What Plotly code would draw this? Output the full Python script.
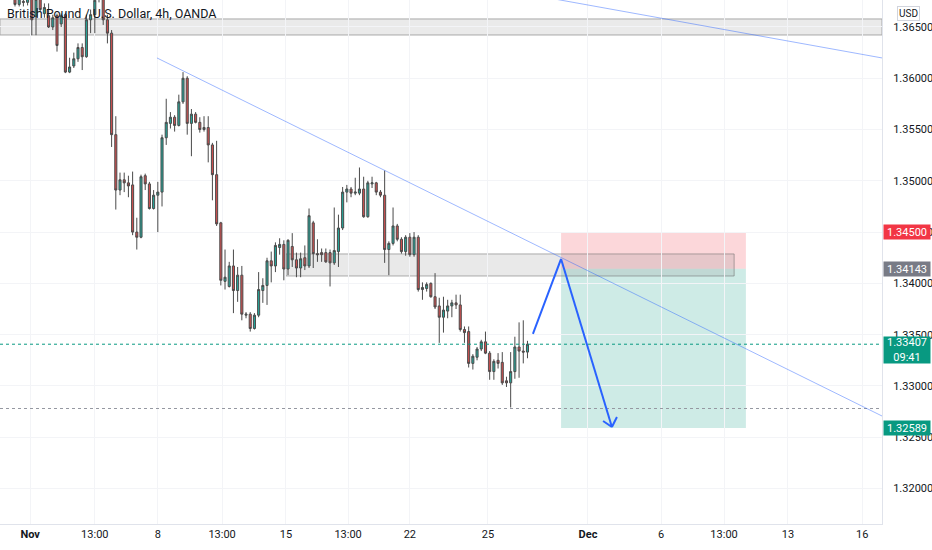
import plotly.graph_objects as go

# ---------------- data (GBP/USD 4h) ----------------
open_ = [1.3690, 1.3693, 1.3688,
         1.3678, 1.3672, 1.3675, 1.3674, 1.3679, 1.3660, 1.3679, 1.3663, 1.3661, 1.3650,
         1.3661, 1.3653, 1.3662, 1.3606, 1.3612, 1.3619, 1.3630, 1.3621, 1.3657, 1.3662,
         1.3684, 1.3679, 1.3657, 1.3644, 1.3545, 1.3491, 1.3501, 1.3498, 1.3496, 1.3450,
         1.3445, 1.3505, 1.3497, 1.3473, 1.3486, 1.3489, 1.3542, 1.3556, 1.3562, 1.3554,
         1.3577, 1.3600, 1.3556, 1.3565, 1.3557, 1.3550, 1.3552, 1.3535, 1.3506, 1.3459,
         1.3402, 1.3397, 1.3417, 1.3393, 1.3408, 1.3369, 1.3370, 1.3356, 1.3369, 1.3393,
         1.3398, 1.3422, 1.3417, 1.3435, 1.3438, 1.3414, 1.3436, 1.3423, 1.3415, 1.3425,
         1.3417, 1.3459, 1.3429, 1.3430, 1.3430, 1.3430, 1.3420, 1.3431, 1.3454, 1.3489,
         1.3492, 1.3488, 1.3488, 1.3492, 1.3465, 1.3497, 1.3498, 1.3489, 1.3486, 1.3433,
         1.3439, 1.3456, 1.3443, 1.3431, 1.3445, 1.3428, 1.3445, 1.3394, 1.3395, 1.3400,
         1.3387, 1.3378, 1.3367, 1.3373, 1.3378, 1.3381, 1.3379, 1.3355, 1.3353, 1.3322,
         1.3328, 1.3336, 1.3343, 1.3332, 1.3314, 1.3325, 1.3323, 1.3305, 1.3303, 1.3314,
         1.3338, 1.3334, 1.3333]

high = [1.3698, 1.3700, 1.3692,
        1.3681, 1.3682, 1.3678, 1.3680, 1.3681, 1.3680, 1.3681, 1.3673, 1.3673, 1.3662,
        1.3663, 1.3663, 1.3664, 1.3620, 1.3625, 1.3634, 1.3634, 1.3662, 1.3667, 1.3681,
        1.3688, 1.3682, 1.3662, 1.3647, 1.3563, 1.3508, 1.3508, 1.3505, 1.3509, 1.3464,
        1.3506, 1.3507, 1.3499, 1.3491, 1.3499, 1.3545, 1.3580, 1.3567, 1.3564, 1.3584,
        1.3606, 1.3602, 1.3570, 1.3567, 1.3562, 1.3563, 1.3563, 1.3537, 1.3539, 1.3460,
        1.3433, 1.3421, 1.3433, 1.3416, 1.3417, 1.3372, 1.3372, 1.3371, 1.3411, 1.3405,
        1.3425, 1.3431, 1.3440, 1.3444, 1.3442, 1.3443, 1.3449, 1.3430, 1.3430, 1.3437,
        1.3473, 1.3461, 1.3443, 1.3434, 1.3434, 1.3433, 1.3474, 1.3467, 1.3494, 1.3496,
        1.3494, 1.3503, 1.3513, 1.3504, 1.3500, 1.3504, 1.3499, 1.3491, 1.3510, 1.3441,
        1.3474, 1.3458, 1.3445, 1.3447, 1.3449, 1.3450, 1.3447, 1.3401, 1.3401, 1.3401,
        1.3410, 1.3386, 1.3387, 1.3384, 1.3384, 1.3389, 1.3389, 1.3358, 1.3358, 1.3331,
        1.3338, 1.3345, 1.3353, 1.3334, 1.3326, 1.3332, 1.3333, 1.3309, 1.3333, 1.3348,
        1.3362, 1.3364, 1.3344]

low = [1.3684, 1.3685, 1.3682,
       1.3670, 1.3670, 1.3670, 1.3671, 1.3642, 1.3642, 1.3665, 1.3659, 1.3649, 1.3647,
       1.3626, 1.3650, 1.3605, 1.3605, 1.3610, 1.3616, 1.3608, 1.3620, 1.3644, 1.3644,
       1.3674, 1.3652, 1.3634, 1.3533, 1.3472, 1.3486, 1.3489, 1.3484, 1.3447, 1.3433,
       1.3444, 1.3491, 1.3472, 1.3472, 1.3450, 1.3475, 1.3535, 1.3551, 1.3548, 1.3553,
       1.3575, 1.3545, 1.3524, 1.3556, 1.3547, 1.3548, 1.3518, 1.3481, 1.3456, 1.3398,
       1.3394, 1.3396, 1.3371, 1.3382, 1.3364, 1.3366, 1.3353, 1.3355, 1.3367, 1.3381,
       1.3379, 1.3401, 1.3411, 1.3428, 1.3403, 1.3408, 1.3416, 1.3406, 1.3406, 1.3413,
       1.3415, 1.3415, 1.3421, 1.3421, 1.3420, 1.3397, 1.3418, 1.3416, 1.3452, 1.3479,
       1.3484, 1.3486, 1.3486, 1.3464, 1.3464, 1.3493, 1.3486, 1.3484, 1.3420, 1.3408,
       1.3437, 1.3441, 1.3429, 1.3427, 1.3426, 1.3426, 1.3392, 1.3384, 1.3392, 1.3386,
       1.3375, 1.3342, 1.3352, 1.3366, 1.3367, 1.3375, 1.3353, 1.3342, 1.3318, 1.3316,
       1.3325, 1.3334, 1.3331, 1.3306, 1.3306, 1.3317, 1.3301, 1.3299, 1.3279, 1.3307,
       1.3308, 1.3322, 1.3327]

close = [1.3693, 1.3688, 1.3684,
         1.3672, 1.3679, 1.3674, 1.3678, 1.3657, 1.3677, 1.3667, 1.3669, 1.3650, 1.3659,
         1.3632, 1.3661, 1.3606, 1.3611, 1.3619, 1.3630, 1.3621, 1.3657, 1.3662, 1.3676,
         1.3678, 1.3657, 1.3644, 1.3545, 1.3491, 1.3501, 1.3498, 1.3495, 1.3450, 1.3445,
         1.3504, 1.3497, 1.3473, 1.3486, 1.3489, 1.3542, 1.3557, 1.3562, 1.3554, 1.3577,
         1.3600, 1.3556, 1.3565, 1.3557, 1.3550, 1.3552, 1.3535, 1.3506, 1.3458, 1.3403,
         1.3406, 1.3417, 1.3393, 1.3408, 1.3370, 1.3370, 1.3356, 1.3369, 1.3394, 1.3398,
         1.3422, 1.3417, 1.3437, 1.3438, 1.3414, 1.3442, 1.3423, 1.3415, 1.3424, 1.3417,
         1.3466, 1.3429, 1.3428, 1.3428, 1.3421, 1.3420, 1.3432, 1.3454, 1.3489, 1.3492,
         1.3488, 1.3489, 1.3492, 1.3465, 1.3498, 1.3498, 1.3489, 1.3486, 1.3433, 1.3439,
         1.3456, 1.3443, 1.3431, 1.3445, 1.3428, 1.3445, 1.3394, 1.3396, 1.3399, 1.3387,
         1.3377, 1.3367, 1.3374, 1.3378, 1.3381, 1.3379, 1.3355, 1.3352, 1.3322, 1.3329,
         1.3336, 1.3343, 1.3332, 1.3314, 1.3324, 1.3322, 1.3303, 1.3303, 1.3314, 1.3338,
         1.3334, 1.3333, 1.33407]

bars = list(range(-3, len(open_) - 3))   # bar index (weekend gaps skipped)

time_labels = ["<b>Nov</b>", "13:00", "8", "13:00", "15", "13:00", "22", "25",
               "<b>Dec</b>", "6", "13:00", "13", "16"]
time_label_bars = [3.6, 19, 34, 49.3, 64.5, 79.3, 94, 112.6, 136.4, 153.8, 168.8, 184, 201.7]

price_ticks = [1.32, 1.325, 1.33, 1.335, 1.34, 1.345, 1.35, 1.355, 1.36, 1.365]

# trade plan levels
stop_price = 1.34500
entry_price = 1.34143
target_price = 1.32589
last_price = 1.33407
last_time = "09:41"
recent_low = 1.3278

# drawings (bar index, price)
supply_zone_top = (1.36578, 1.36422)
demand_zone = (64.5, 171.2, 1.34287, 1.34072)
position_bars = (130, 174)
trend1 = ((33.8, 1.36198), (206.4, 1.32707))
trend2 = ((110.0, 1.36909), (206.4, 1.36198))
arrow_path = [(123.3, 1.33507), (130, 1.34238), (142.1, 1.32600)]
arrow_head = [(140.0, 1.32658), (143.3, 1.32697)]

# ---------------- figure ----------------
FONT = "Roboto"
TXT = "#131722"

fig = go.Figure(go.Candlestick(
    x=bars, open=open_, high=high, low=low, close=close,
    increasing=dict(fillcolor="#26a69a", line=dict(color="#4a4a4a", width=1)),
    decreasing=dict(fillcolor="#d05050", line=dict(color="#4a4a4a", width=1)),
    whiskerwidth=0, hoverinfo="skip", showlegend=False,
))

shapes = []
# top supply zone (full width)
shapes.append(dict(type="rect", xref="paper", yref="y", x0=0, x1=1,
                   y0=supply_zone_top[1], y1=supply_zone_top[0],
                   fillcolor="rgba(190,190,190,0.32)", line=dict(color="#a9a9a9", width=1),
                   layer="below"))
# short position boxes
shapes.append(dict(type="rect", xref="x", yref="y", x0=position_bars[0], x1=position_bars[1],
                   y0=entry_price, y1=stop_price, fillcolor="rgba(242,54,69,0.2)",
                   line=dict(width=0), layer="below"))
shapes.append(dict(type="rect", xref="x", yref="y", x0=position_bars[0], x1=position_bars[1],
                   y0=target_price, y1=entry_price, fillcolor="rgba(8,153,129,0.2)",
                   line=dict(width=0), layer="below"))
# demand zone
shapes.append(dict(type="rect", xref="x", yref="y", x0=demand_zone[0], x1=demand_zone[1],
                   y0=demand_zone[3], y1=demand_zone[2],
                   fillcolor="rgba(120,120,120,0.16)", line=dict(color="rgba(110,110,110,0.55)", width=1),
                   layer="below"))
# dotted horizontal lines
shapes.append(dict(type="line", xref="paper", yref="y", x0=0, x1=1, y0=last_price, y1=last_price,
                   line=dict(color="#089981", width=1, dash="dot")))
shapes.append(dict(type="line", xref="paper", yref="y", x0=0, x1=1, y0=recent_low, y1=recent_low,
                   line=dict(color="#9598a1", width=1, dash="dot")))
# trend lines
for (a, b) in (trend1, trend2):
    shapes.append(dict(type="line", xref="x", yref="y", x0=a[0], y0=a[1], x1=b[0], y1=b[1],
                       line=dict(color="rgba(41,98,255,0.45)", width=1)))
# projected path arrow
for p, q in zip(arrow_path[:-1], arrow_path[1:]):
    shapes.append(dict(type="line", xref="x", yref="y", x0=p[0], y0=p[1], x1=q[0], y1=q[1],
                       line=dict(color="#2962ff", width=2)))
tip = arrow_path[-1]
for h in arrow_head:
    shapes.append(dict(type="line", xref="x", yref="y", x0=h[0], y0=h[1], x1=tip[0], y1=tip[1],
                       line=dict(color="#2962ff", width=2)))

annotations = [
    dict(xref="paper", yref="paper", x=0, y=1, xanchor="left", yanchor="top",
         xshift=5, yshift=-4, showarrow=False,
         text="British Pound / U.S. Dollar, 4h, OANDA",
         font=dict(family=FONT, size=12.5, color=TXT)),
    dict(xref="paper", yref="paper", x=1, y=1, xanchor="left", yanchor="top",
         xshift=15, yshift=-6, showarrow=False, text="USD",
         font=dict(family=FONT, size=10, color=TXT),
         bgcolor="white", bordercolor="#d1d4dc", borderwidth=1, borderpad=1),
]


def price_label(price, text, bg, height=14, yshift=0):
    return dict(xref="paper", yref="y", x=1, y=price, xanchor="left", yanchor="middle",
                xshift=1, yshift=yshift, showarrow=False, text=text, width=46, height=height,
                align="center", bgcolor=bg, borderpad=0,
                font=dict(family=FONT, size=11, color="white"))


annotations += [
    price_label(stop_price, f"{stop_price:.5f}", "#f23645"),
    price_label(entry_price, f"{entry_price:.5f}", "#787b86"),
    price_label(last_price, f"{last_price:.5f}<br>{last_time}", "#089981", height=26, yshift=-6),
    price_label(target_price, f"{target_price:.5f}", "#089981"),
]

fig.update_layout(
    width=932, height=550,
    margin=dict(l=0, r=50, t=0, b=26),
    paper_bgcolor="white", plot_bgcolor="white",
    showlegend=False,
    font=dict(family=FONT, size=11, color=TXT),
    shapes=shapes, annotations=annotations,
    xaxis=dict(range=[-3.57, 206.4], tickvals=time_label_bars, ticktext=time_labels,
               showgrid=True, gridcolor="#f3f4f7", gridwidth=1, zeroline=False,
               rangeslider=dict(visible=False), showline=True, linecolor="#e0e3eb",
               ticks="", tickfont=dict(family=FONT, size=11, color=TXT),
               fixedrange=True),
    yaxis=dict(side="right", range=[1.31654, 1.36763], tickvals=price_ticks,
               tickformat=".5f", showgrid=True, gridcolor="#f3f4f7", zeroline=False,
               showline=True, linecolor="#e0e3eb", ticks="", ticklabelstandoff=8,
               tickfont=dict(family=FONT, size=11, color=TXT), fixedrange=True),
)

fig.write_html("out.html", config={"displayModeBar": False},
               post_script="document.body.style.margin='0';document.body.style.padding='0';")
